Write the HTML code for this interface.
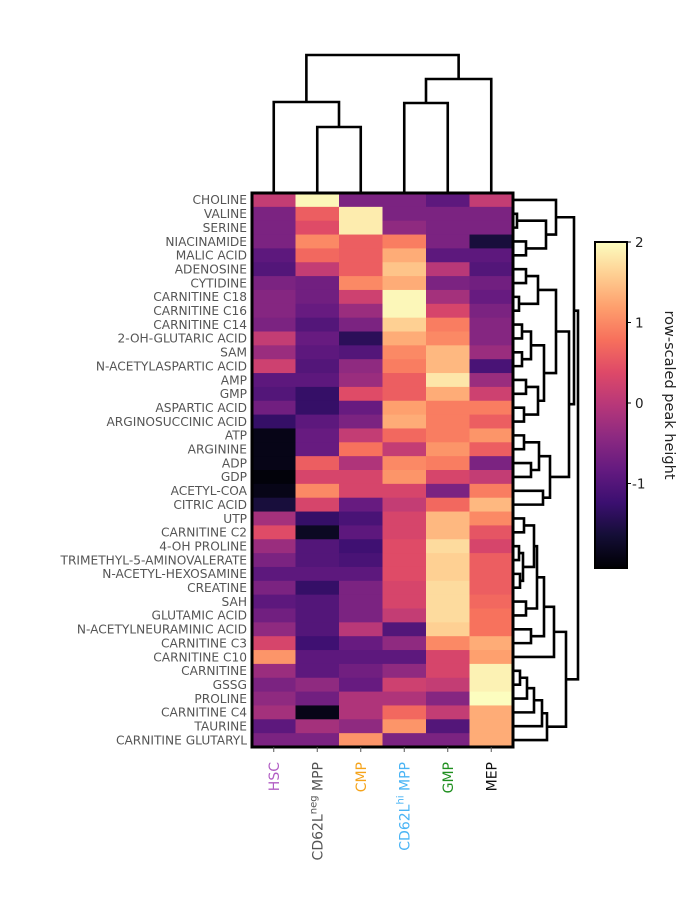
<!DOCTYPE html>
<html><head><meta charset="utf-8"><style>
html,body{margin:0;padding:0;background:#fff;}
svg{display:block;font-family:"DejaVu Sans","Liberation Sans",sans-serif;}
</style></head><body>
<svg id="chart" width="685" height="913" viewBox="0 0 685 913" xmlns="http://www.w3.org/2000/svg">
<g id="cells"></g>
<g id="rowlabels"></g>
<g id="collabels"></g>
<g id="topdendro"></g>
<g id="rightdendro"></g>
<g id="cbar"></g>
</svg>
<script>
const rowNames = ["CHOLINE","VALINE","SERINE","NIACINAMIDE","MALIC ACID","ADENOSINE","CYTIDINE","CARNITINE C18","CARNITINE C16","CARNITINE C14","2-OH-GLUTARIC ACID","SAM","N-ACETYLASPARTIC ACID","AMP","GMP","ASPARTIC ACID","ARGINOSUCCINIC ACID","ATP","ARGININE","ADP","GDP","ACETYL-COA","CITRIC ACID","UTP","CARNITINE C2","4-OH PROLINE","TRIMETHYL-5-AMINOVALERATE","N-ACETYL-HEXOSAMINE","CREATINE","SAH","GLUTAMIC ACID","N-ACETYLNEURAMINIC ACID","CARNITINE C3","CARNITINE C10","CARNITINE","GSSG","PROLINE","CARNITINE C4","TAURINE","CARNITINE GLUTARYL"];
const colNames = ["HSC","CD62Lneg MPP","CMP","CD62Lhi MPP","GMP","MEP"];
const colHSC   = [0.1,-0.6,-0.6,-0.6,-0.9,-1.0,-0.6,-0.5,-0.5,-0.6,0.1,-0.3,0.2,-0.9,-1.0,-0.7,-1.3,-1.9,-1.9,-1.9,-2.0,-1.9,-1.6,-0.2,0.4,-0.3,-0.6,-0.9,-0.6,-0.9,-0.7,-0.4,0.3,1.1,-0.3,-0.6,-0.4,-0.2,-0.9,-0.6];
const colNEG   = [1.95,0.6,0.4,1.0,0.7,0.1,-0.7,-0.7,-0.8,-1.0,-0.8,-0.9,-1.0,-0.9,-1.3,-1.3,-0.9,-0.8,-0.8,0.6,0.3,1.0,0.3,-1.3,-1.8,-1.0,-1.0,-0.9,-1.3,-1.0,-1.0,-1.0,-1.2,-0.9,-0.9,-0.4,-0.7,-1.9,-0.2,-0.6];
const colCMP   = [-0.6,1.85,1.85,0.6,0.6,0.6,1.0,0.2,-0.3,-0.6,-1.4,-1.0,-0.4,-0.3,0.4,-0.8,-0.6,0.1,0.8,-0.1,0.3,0.3,-0.8,-1.1,-0.9,-1.2,-1.1,-0.9,-0.6,-0.6,-0.6,0.0,-0.8,-0.9,-0.7,-0.8,-0.1,-0.1,-0.4,1.1];
const colHI    = [-0.6,-0.6,-0.4,0.9,1.3,1.5,1.3,1.95,1.95,1.6,1.3,1.0,0.9,0.6,0.6,1.2,1.3,0.7,0.1,1.0,1.1,0.3,0.1,0.3,0.3,0.4,0.4,0.4,0.3,0.3,0.1,-1.0,-0.4,-0.9,-0.4,0.2,-0.1,0.7,1.1,-0.6];
const colGMP   = [-0.9,-0.6,-0.6,-0.6,-0.9,0.0,-0.6,-0.2,0.3,0.9,1.0,1.4,1.4,1.8,1.3,0.9,0.9,0.9,1.1,0.9,0.3,-0.6,0.7,1.4,1.4,1.7,1.6,1.6,1.7,1.7,1.7,1.6,1.0,0.3,0.3,0.1,-0.5,0.1,-1.0,-0.6];
const colMEP   = [0.1,-0.6,-0.6,-1.6,-0.9,-1.0,-0.7,-0.8,-0.6,-0.5,-0.5,-0.3,-1.1,-0.3,0.2,0.9,0.6,1.1,0.6,-0.6,0.1,0.9,1.4,1.0,0.5,0.3,0.6,0.6,0.6,0.7,0.8,0.8,1.3,1.2,1.9,1.9,2.05,1.3,1.3,1.3];
const colorTicks = [2,1,0,-1];
const vmin = -2.05, vmax = 2;
const colTree = [0,[1,2,65],90];
const colTreeR = [[3,4,89],5,113];
const colRootH = 137;
const T1 = [0,[[1,2,3],[3,4,12],32],42];
const R  = [[[5,6,12],[7,8,5],24],[[[9,10,8],[11,12,8],17],[[13,14,12],[15,16,10],24],30],42];
const S  = [[[17,18,10],[19,20,17],25],[21,22,29],36];
const C23 = [[[23,24,10],[[25,26,5],[27,28,6],9],20],[29,30,12],23];
const B1 = [[C23,[31,32,17],30],33,40];
const B2 = [[[[[34,35,6],36,13],37,20],38,28],39,33];
const rowTree = [[T1,[R,S,55],60],[B1,B2,52],64];

const NS="http://www.w3.org/2000/svg";
const X0=252, X1=513, Y0=193, Y1=747;
const nR=rowNames.length, nC=colNames.length;
const cw=(X1-X0)/nC, rh=(Y1-Y0)/nR;
const xCol=i=>X0+cw*(i+0.5), yRow=i=>Y0+rh*(i+0.5);
const stops=["#000004","#140e36","#3b0f70","#641a80","#8c2981","#b73779","#de4968","#f7705c","#fe9f6d","#fecf92","#fcfdbf"];
function hex(h){return [1,3,5].map(i=>parseInt(h.substr(i,2),16));}
function magma(t){t=Math.max(0,Math.min(1,t));const p=t*10,i=Math.min(9,Math.floor(p)),f=p-i;const a=hex(stops[i]),b=hex(stops[i+1]);return "rgb("+a.map((v,k)=>Math.round(v+(b[k]-v)*f)).join(",")+")";}
const cscale=v=>(v-vmin)/(vmax-vmin);
function mk(tag,attrs,parent){const e=document.createElementNS(NS,tag);for(const k in attrs)e.setAttribute(k,attrs[k]);parent.appendChild(e);return e;}

const cols=[colHSC,colNEG,colCMP,colHI,colGMP,colMEP];
const gC=document.getElementById("cells");
cols.forEach((arr,c)=>{arr.forEach((v,r)=>{
  const e=mk("rect",{x:X0+cw*c,y:Y0+rh*r,width:cw+0.5,height:rh+0.5,fill:magma(cscale(v))},gC);
  
  
});});
const border=mk("rect",{x:X0,y:Y0,width:X1-X0,height:Y1-Y0,fill:"none",stroke:"#000","stroke-width":3},gC);



const gRL=document.getElementById("rowlabels");
rowNames.forEach((n,r)=>{
  const t=mk("text",{x:X0-5,y:yRow(r)+4.3,"text-anchor":"end","font-size":"12.2",fill:"#555"},gRL);
  t.textContent=n;
  
  
});

const gCL=document.getElementById("collabels");
const colColors=["#b25ec4","#555","#f5a31a","#4ab4f5","#1f8f1f","#111"];
colNames.forEach((n,c)=>{
  const tk=mk("line",{x1:xCol(c),x2:xCol(c),y1:Y1,y2:Y1+5,stroke:"#555","stroke-width":1},gCL);
  
  
  const t=mk("text",{transform:"translate("+(xCol(c)+5)+","+(Y1+15)+") rotate(-90)","text-anchor":"end","font-size":"14",fill:colColors[c]},gCL);
  
  
  const parts=n.split(" ");
  if(n.indexOf("CD62L")===0){
    const base=mk("tspan",{},t);base.textContent="CD62L";
    const sup=mk("tspan",{"font-size":"10",dy:"-6"},t);sup.textContent=parts[0].slice(5);
    const rest=mk("tspan",{dy:"6"},t);rest.textContent=" "+parts[1];
  } else t.textContent=n;
});

function drawTree(node,g,pos,axis){
  if(typeof node==="number")return {p:pos(node),h:0};
  const a=drawTree(node[0],g,pos,axis),b=drawTree(node[1],g,pos,axis),h=node[2];
  const st={stroke:"#000","stroke-width":2.6,fill:"none","stroke-linejoin":"miter"};
  let d;
  if(axis==="row"){const x=v=>X1+1+v;d="M"+x(a.h)+","+a.p+"H"+x(h)+"V"+b.p+"H"+x(b.h);}
  else{const y=v=>Y0-1-v;d="M"+a.p+","+y(a.h)+"V"+y(h)+"H"+b.p+"V"+y(b.h);}
  const e=mk("path",Object.assign({d:d},st),g);
  
  
  return {p:(a.p+b.p)/2,h:h};
}
drawTree(rowTree,document.getElementById("rightdendro"),yRow,"row");
drawTree([colTree,colTreeR,colRootH],document.getElementById("topdendro"),xCol,"col");

const gB=document.getElementById("cbar");
const BX=595,BW=32,BT=242,BB=568;
const defs=mk("defs",{},gB);
const lg=mk("linearGradient",{id:"mg",x1:0,y1:1,x2:0,y2:0},defs);
stops.forEach((s,i)=>mk("stop",{offset:i/10,"stop-color":s},lg));
const bar=mk("rect",{x:BX,y:BT,width:BW,height:BB-BT,fill:"url(#mg)",stroke:"#000","stroke-width":2},gB);


const yCB=v=>BB-(v-vmin)/(vmax-vmin)*(BB-BT);
colorTicks.forEach(v=>{
  const l=mk("line",{x1:BX+BW,x2:BX+BW+4,y1:yCB(v),y2:yCB(v),stroke:"#000","stroke-width":1},gB);
  
  
  const t=mk("text",{x:BX+BW+(v<0?5:8),y:yCB(v)+5,"font-size":"13.5",fill:"#222"},gB);
  t.textContent=(v<0?"-":"")+Math.abs(v);
  
  
});
const ttl=mk("text",{transform:"translate(665,395) rotate(90)","text-anchor":"middle","font-size":"14.5",fill:"#222"},gB);
ttl.textContent="row-scaled peak height";


</script>
</body></html>
